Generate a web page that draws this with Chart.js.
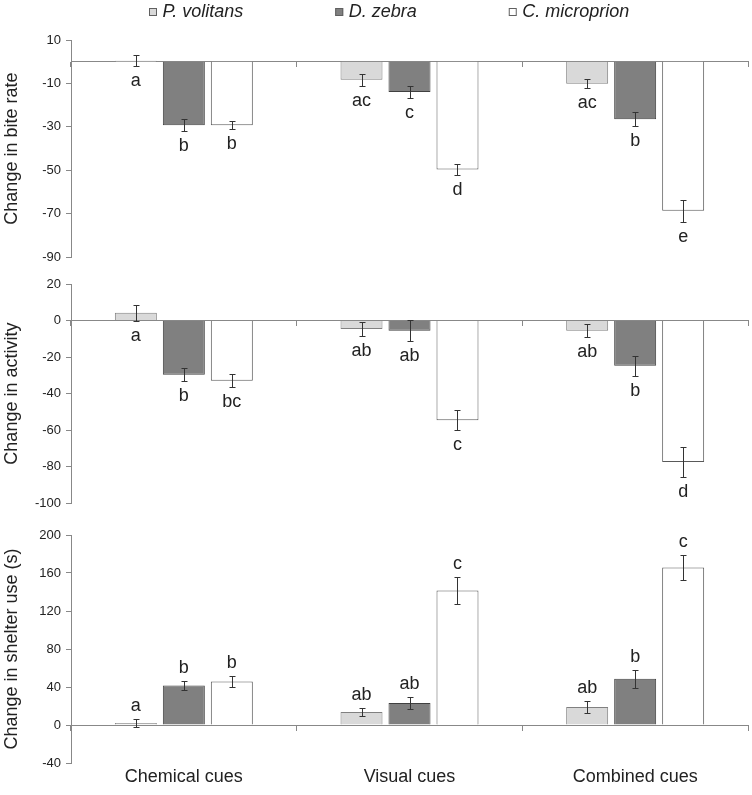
<!DOCTYPE html>
<html>
<head>
<meta charset="utf-8">
<script src="https://cdn.jsdelivr.net/npm/chart.js@4.4.1/dist/chart.umd.min.js"></script>
<style>
  body { margin: 0; background: #fff; }
  .panel { position: absolute; left: 0; width: 752px; }
</style>
</head>
<body>
<div class="panel" style="top:0;height:270px"><canvas id="biteChart"></canvas></div>
<div class="panel" style="top:270px;height:246px"><canvas id="activityChart"></canvas></div>
<div class="panel" style="top:516px;height:279px"><canvas id="shelterChart"></canvas></div>
<script>
const categories = ['Chemical cues', 'Visual cues', 'Combined cues'];
const species = ['P. volitans', 'D. zebra', 'C. microprion'];

// rows: P. volitans, D. zebra, C. microprion
const biteMeans = [
    [0.5, -8.3, -10.1],
    [-29.2, -13.9, -26.5],
    [-29.2, -49.6, -68.6]
];
const biteErrors = [
    [2.7, 2.7, 2.2],
    [2.7, 2.6, 3.3],
    [2.0, 2.5, 5.0]
];
const biteLetters = [
    ['a', 'ac', 'ac'],
    ['b', 'c', 'b'],
    ['b', 'd', 'e']
];

const activityMeans = [
    [4.3, -4.7, -5.6],
    [-29.7, -5.6, -24.7],
    [-33.0, -54.6, -77.5]
];
const activityErrors = [
    [4.4, 4.0, 3.5],
    [3.6, 5.7, 5.4],
    [3.5, 5.5, 8.1]
];
const activityLetters = [
    ['a', 'ab', 'ab'],
    ['b', 'ab', 'b'],
    ['bc', 'c', 'd']
];

const shelterMeans = [
    [2.1, 13.7, 19.0],
    [41.5, 23.2, 48.6],
    [45.7, 141.5, 165.7]
];
const shelterErrors = [
    [3.7, 4.0, 6.0],
    [4.7, 6.5, 9.2],
    [5.8, 14.0, 12.8]
];
const shelterLetters = [
    ['a', 'ab', 'ab'],
    ['b', 'ab', 'b'],
    ['b', 'c', 'c']
];

const FONT = '"Liberation Sans", Arial, sans-serif';
const fills = ['#d9d9d9', '#808080', '#ffffff'];
const borders = ['#808080', '#404040', '#595959'];

// error bars + significance letters
const errorBars = {
    id: 'errorBars',
    afterDatasetsDraw(chart, args, opts) {
        const { ctx } = chart;
        const y = chart.scales.y;
        ctx.save();
        ctx.lineWidth = 1;
        ctx.strokeStyle = '#333';
        ctx.font = '18px ' + FONT;
        ctx.textAlign = 'center';
        ctx.textBaseline = 'alphabetic';
        ctx.fillStyle = '#222';
        chart.data.datasets.forEach((ds, i) => {
            chart.getDatasetMeta(i).data.forEach((bar, j) => {
                const top = Math.round(y.getPixelForValue(ds.data[j] + ds.errors[j])) + 0.5;
                const bot = Math.round(y.getPixelForValue(ds.data[j] - ds.errors[j])) + 0.5;
                const x = Math.round(bar.x) + 0.5;
                ctx.beginPath();
                ctx.moveTo(x, top); ctx.lineTo(x, bot);
                ctx.moveTo(x - 3, top); ctx.lineTo(x + 3, top);
                ctx.moveTo(x - 3, bot); ctx.lineTo(x + 3, bot);
                ctx.stroke();
                const ly = opts.side === 'above' ? top - 9 : bot + 19;
                ctx.fillText(ds.letters[j], bar.x, ly);
            });
        });
        ctx.restore();
    }
};

const speciesLegend = {
    id: 'speciesLegend',
    afterDraw(chart) {
        const { ctx } = chart;
        ctx.save();
        ctx.font = 'italic 18px ' + FONT;
        ctx.textBaseline = 'alphabetic';
        let x = 149;
        species.forEach((name, i) => {
            ctx.fillStyle = fills[i];
            ctx.fillRect(x, 8, 8, 8);
            ctx.strokeStyle = '#606060';
            ctx.lineWidth = 1;
            ctx.strokeRect(x + 0.5, 8.5, 7, 7);
            ctx.fillStyle = '#222';
            ctx.fillText(name, x + 13.5, 17);
            x += 13.5 + ctx.measureText(name).width + 92;
        });
        ctx.restore();
    }
};

function barSets(means, errors, letters) {
    return species.map((name, i) => ({
        label: name,
        data: means[i],
        errors: errors[i],
        letters: letters[i],
        backgroundColor: fills[i],
        borderColor: borders[i],
        borderWidth: 1,
        borderSkipped: 'start',
        categoryPercentage: 0.638,
        barPercentage: 0.875
    }));
}

function makeChart(id, means, errors, letters, yMin, yMax, step, title, side, padTop, padBottom, withLabels, extra) {
    const scales = {
        x: {
            position: { y: 0 },
            offset: true,
            grid: { offset: true, drawOnChartArea: false, tickLength: 5, color: '#888' },
            border: { color: '#888' },
            ticks: { display: false }
        },
        y: {
            min: yMin,
            max: yMax,
            ticks: { stepSize: step, color: '#222', font: { size: 13, family: FONT }, padding: 5 },
            grid: { drawOnChartArea: false, tickLength: 5, color: '#888' },
            border: { color: '#888' },
            title: { display: true, text: title, color: '#222', font: { size: 18, family: FONT }, padding: { top: 1, bottom: 0 } },
            afterFit: (s) => { s.width = 71; }
        }
    };
    if (withLabels) {
        scales.xl = {
            type: 'category',
            position: 'bottom',
            offset: true,
            grid: { display: false, drawTicks: false },
            border: { display: false },
            ticks: { color: '#222', font: { size: 18, family: FONT }, padding: 3 },
            afterFit: (s) => { s.height = 32; }
        };
    }
    return new Chart(document.getElementById(id), {
        type: 'bar',
        data: { labels: categories, datasets: barSets(means, errors, letters) },
        options: {
            responsive: true,
            maintainAspectRatio: false,
            animation: false,
            layout: { padding: { top: padTop, bottom: padBottom, left: 0, right: 4 } },
            plugins: {
                legend: { display: false },
                tooltip: { enabled: false },
                errorBars: { side }
            },
            scales
        },
        plugins: [errorBars].concat(extra || [])
    });
}

makeChart('biteChart', biteMeans, biteErrors, biteLetters, -90, 10, 20,
    'Change in bite rate', 'below', 40, 10, false, [speciesLegend]);
makeChart('activityChart', activityMeans, activityErrors, activityLetters, -100, 20, 20,
    'Change in activity', 'below', 14, 10, false);
makeChart('shelterChart', shelterMeans, shelterErrors, shelterLetters, -40, 200, 40,
    'Change in shelter use (s)', 'above', 19, 0, true);
</script>
</body>
</html>
